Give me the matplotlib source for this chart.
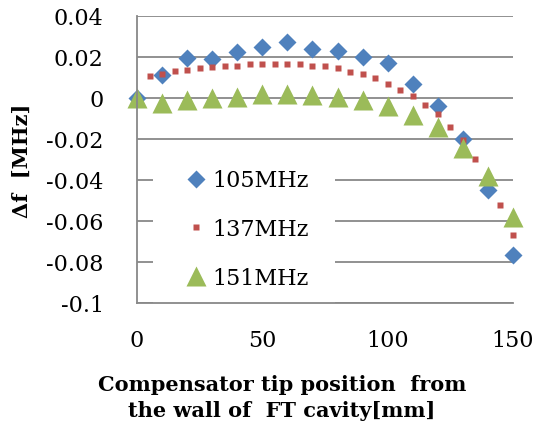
import numpy as np
import matplotlib
matplotlib.use("Agg")
import matplotlib.pyplot as plt

# positions of compensator tip [mm]
x_blue = [0, 10, 20, 30, 40, 50, 60, 70, 80, 90, 100, 110, 120, 130, 140, 150]
f_105 = [0.0, 0.0111, 0.0193, 0.0192, 0.0225, 0.0248, 0.0271, 0.0238, 0.0231,
         0.0198, 0.0172, 0.0069, -0.0037, -0.0198, -0.0448, -0.0767]

x_red = [5, 10, 15, 20, 25, 30, 35, 40, 45, 50, 55, 60, 65, 70, 75, 80, 85, 90,
         95, 100, 105, 110, 115, 120, 125, 130, 135, 140, 145, 150]
f_137 = [0.0108, 0.0118, 0.0131, 0.0139, 0.0147, 0.0149, 0.0157, 0.0158, 0.0167,
         0.0168, 0.0168, 0.0168, 0.0168, 0.0158, 0.0158, 0.0147, 0.0129, 0.0118,
         0.0098, 0.0067, 0.0040, 0.0009, -0.0032, -0.0080, -0.0140, -0.0206,
         -0.0299, -0.0400, -0.0520, -0.0669]

x_green = [0, 10, 20, 30, 40, 50, 60, 70, 80, 90, 100, 110, 120, 130, 140, 150]
f_151 = [0.0, -0.0022, -0.0010, 0.0, 0.0007, 0.0019, 0.0019, 0.0014, 0.0007,
         -0.0010, -0.0040, -0.0082, -0.0140, -0.0245, -0.0380, -0.0582]

yticks = [0.04, 0.02, 0, -0.02, -0.04, -0.06, -0.08, -0.1]
ytick_labels = ["0.04", "0.02", "0", "-0.02", "-0.04", "-0.06", "-0.08", "-0.1"]
xticks = [0, 50, 100, 150]

plt.rcParams['font.family'] = 'DejaVu Serif'
grid_col = '#888888'

fig = plt.figure(figsize=(5.4, 4.27), dpi=100)
ax = fig.add_axes([137/540, 1-304/427, 376/540, 287/427])

ax.plot(x_blue, f_105, 'D', color='#4F81BD', ms=9, mec='none', clip_on=False,
        label='105MHz')
ax.plot(x_red, f_137, 's', color='#C0504D', ms=5, mec='none', clip_on=False,
        label='137MHz')
ax.plot(x_green, f_151, '^', color='#9BBB59', ms=14.5, mec='none', clip_on=False,
        label='151MHz')

ax.set_xlim(0, 150)
ax.set_ylim(-0.1, 0.04)
ax.set_xticks(xticks)
ax.set_xticklabels([str(v) for v in xticks])
ax.set_yticks(yticks)
ax.set_yticklabels(ytick_labels)
ax.tick_params(axis='both', length=0, labelsize=16)
ax.tick_params(axis='x', pad=19)
ax.tick_params(axis='y', pad=24)
ax.grid(axis='y', color=grid_col, lw=1.3)
ax.set_axisbelow(True)
for s in ['top', 'right']:
    ax.spines[s].set_visible(False)
for s in ['left', 'bottom']:
    ax.spines[s].set_color(grid_col)
    ax.spines[s].set_linewidth(1.3)
    ax.spines[s].set_zorder(3)

ax.set_ylabel('Δf  [MHz]', fontsize=15, fontweight='bold', labelpad=10)

leg = ax.legend(loc='center left', bbox_to_anchor=(0.013, 0.258), fontsize=16,
                numpoints=1, handlelength=1.47, handletextpad=0.0,
                labelspacing=1.2, borderpad=1.2, frameon=True, fancybox=False,
                framealpha=1, edgecolor='none', facecolor='white')
leg.set_zorder(2)

fig.text(282/540, 1-385/427, 'Compensator tip position  from',
         ha='center', va='center', fontsize=15, fontweight='bold')
fig.text(282/540, 1-411/427, 'the wall of  FT cavity[mm]',
         ha='center', va='center', fontsize=15, fontweight='bold')

fig.savefig('out.png', dpi=100)
